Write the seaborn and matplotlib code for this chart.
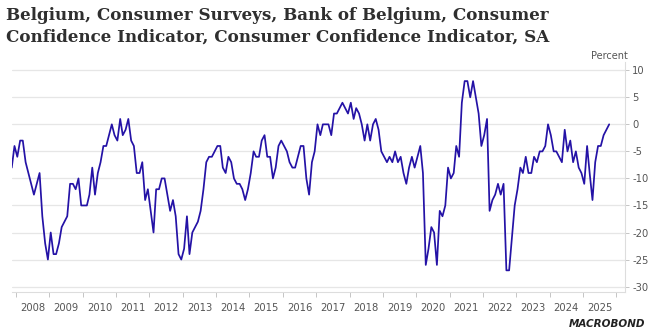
import numpy as np
import pandas as pd
import matplotlib
matplotlib.use("Agg")
import matplotlib.pyplot as plt
import matplotlib.dates as mdates
import seaborn as sns

# Monthly data, Nov 2007 .. Oct 2025
start_month = "2007-11-01"
values = [
    -8, -4,
    -6, -3, -3, -7, -9, -11, -13, -11, -9, -17, -22, -25,          # 2008
    -20, -24, -24, -22, -19, -18, -17, -11, -11, -12, -10, -15,    # 2009
    -15, -15, -13, -8, -13, -9, -7, -4, -4, -2, 0, -2,             # 2010
    -3, 1, -2, -1, 1, -3, -4, -9, -9, -7, -14, -12,                # 2011
    -16, -20, -12, -12, -10, -10, -13, -16, -14, -17, -24, -25,    # 2012
    -23, -17, -24, -20, -19, -18, -16, -12, -7, -6, -6, -5,        # 2013
    -4, -4, -8, -9, -6, -7, -10, -11, -11, -12, -14, -12,          # 2014
    -9, -5, -6, -6, -3, -2, -6, -6, -10, -8, -4, -3,               # 2015
    -4, -5, -7, -8, -8, -6, -4, -4, -10, -13, -7, -5,              # 2016
    0, -2, 0, 0, 0, -2, 2, 2, 3, 4, 3, 2,                          # 2017
    4, 1, 3, 2, 0, -3, 0, -3, 0, 1, -1, -5,                        # 2018
    -6, -7, -6, -7, -5, -7, -6, -9, -11, -8, -6, -8,               # 2019
    -6, -4, -9, -26, -23, -19, -20, -26, -16, -17, -15, -8,        # 2020
    -10, -9, -4, -6, 4, 8, 8, 5, 8, 5, 2, -4,                      # 2021
    -2, 1, -16, -14, -13, -11, -13, -11, -27, -27, -21, -15,       # 2022
    -12, -8, -9, -6, -9, -9, -6, -7, -5, -5, -4, 0,                # 2023
    -2, -5, -5, -6, -7, -1, -5, -3, -7, -5, -8, -9,                # 2024
    -11, -4, -9, -14, -7, -4, -4, -2, -1, 0,                       # 2025
]
year_labels = [str(y) for y in range(2008, 2026)]
y_ticks = [10, 5, 0, -5, -10, -15, -20, -25, -30]

dates = pd.date_range(start_month, periods=len(values), freq="MS") + pd.Timedelta(days=14)
df = pd.DataFrame({"date": dates, "value": values})

sns.set_theme(style="white")
plt.rcParams["font.family"] = ["DejaVu Sans"]

fig = plt.figure(figsize=(6.52, 3.36), dpi=100)
ax = fig.add_axes([0.018, 0.131, 0.9407, 0.684])

line_color = "#2412A6"
sns.lineplot(data=df, x="date", y="value", ax=ax, color=line_color, linewidth=1.25)

ax.set_xlim(dates[0], pd.Timestamp("2026-04-07"))
ax.set_ylim(-31, 11.5)

# grid
for yv in y_ticks:
    ax.axhline(yv, color="#e6e6e6", linewidth=0.9, zorder=0)

ax.yaxis.tick_right()
ax.set_yticks(y_ticks)
ax.set_yticklabels([str(v) for v in y_ticks], fontsize=7.2, color="#555555")
ax.tick_params(axis="y", which="major", length=3, width=0.6, color="#bbbbbb", pad=2,
               right=True, left=False)

# x ticks: year boundaries (marks), labels mid-year
year_starts = [pd.Timestamp(f"{y}-01-01") for y in range(2008, 2027)]
mid_years = [pd.Timestamp(f"{y}-07-02") for y in range(2008, 2026)]
ax.set_xticks(year_starts)
ax.set_xticklabels([""] * len(year_starts))
ax.set_xticks(mid_years, minor=True)
ax.set_xticklabels(year_labels, minor=True, fontsize=7.2, color="#555555")
ax.tick_params(axis="x", which="major", length=3.5, width=0.6, color="#bbbbbb", bottom=True)
ax.tick_params(axis="x", which="minor", length=0, pad=8)

for s in ["top", "left"]:
    ax.spines[s].set_visible(False)
ax.spines["right"].set_color("#dddddd")
ax.spines["right"].set_linewidth(0.8)
ax.spines["bottom"].set_color("#dddddd")
ax.spines["bottom"].set_linewidth(0.8)
ax.set_xlabel("")
ax.set_ylabel("")

fig.text(0.009, 0.978, "Belgium, Consumer Surveys, Bank of Belgium, Consumer\nConfidence Indicator, Consumer Confidence Indicator, SA",
         ha="left", va="top", fontsize=12.1, fontweight="bold", family="DejaVu Serif",
         color="#2f2f2f", linespacing=1.3)
fig.text(0.963, 0.818, "Percent", ha="right", va="bottom", fontsize=7, color="#555555")
fig.text(0.99, 0.035, "MACROBOND", ha="right", va="center", fontsize=7.5, fontweight="heavy",
         style="italic", color="#222222")

fig.savefig("out.png", dpi=100)
